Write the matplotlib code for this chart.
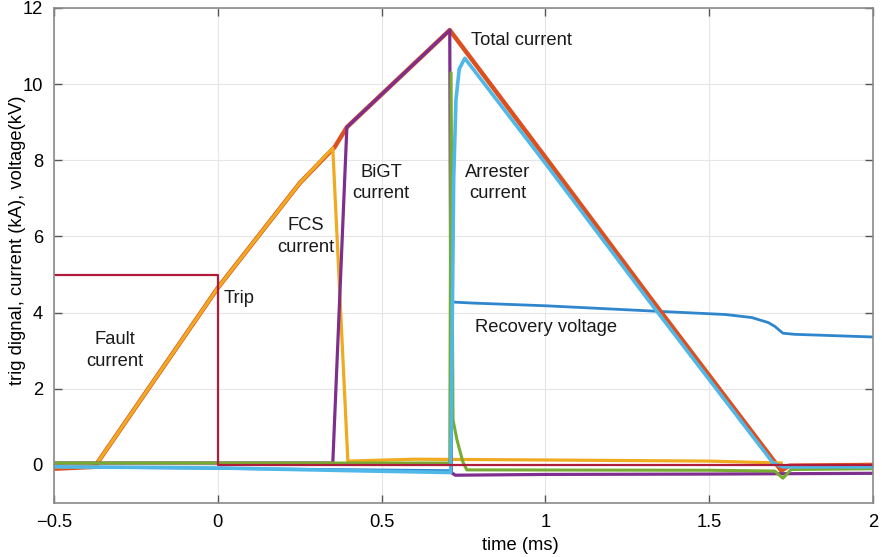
import matplotlib
matplotlib.use("Agg")
import matplotlib.pyplot as plt

plt.rcParams['font.family'] = ['Liberation Sans', 'DejaVu Sans']

# --- traces (time in ms) ---
trip_t = [-0.5, 0.0, 0.0, 2.0]
trip_v = [5.0, 5.0, 0.0, 0.0]

total_t = [-0.5, -0.376, 0.0, 0.25, 0.357, 0.394, 0.708, 1.0, 1.328, 1.707, 1.72, 1.745, 2.0]
total_v = [-0.1, -0.05, 4.65, 7.4, 8.35, 8.87, 11.42, 8.08, 4.3, 0.0, -0.15, -0.02, 0.0]

fcs_t = [-0.5, -0.376, 0.0, 0.25, 0.351, 0.397, 0.6, 1.0, 1.5, 1.72]
fcs_v = [-0.05, -0.05, 4.65, 7.4, 8.32, 0.1, 0.15, 0.13, 0.1, 0.05]

bigt_t = [-0.5, 0.351, 0.394, 0.708, 0.713, 0.725, 1.0, 1.5, 2.0]
bigt_v = [0.05, 0.05, 8.87, 11.42, -0.2, -0.27, -0.25, -0.24, -0.22]

green_t = [-0.5, 0.708, 0.712, 0.718, 0.730, 0.748, 0.76, 1.5, 1.70, 1.725, 1.75, 2.0]
green_v = [0.05, 0.05, 10.3, 1.18, 0.66, 0.08, -0.13, -0.14, -0.16, -0.35, -0.12, -0.1]

arrester_t = [-0.5, 0.0, 0.4, 0.711, 0.716, 0.72, 0.727, 0.737, 0.754, 1.0, 1.33, 1.695, 1.725, 2.0]
arrester_v = [-0.05, -0.08, -0.15, -0.2, 4.0, 7.5, 9.6, 10.4, 10.68, 7.92, 4.15, 0.05, -0.05, -0.05]

recovery_t = [-0.5, 0.71, 0.712, 0.78, 1.0, 1.33, 1.55, 1.63, 1.68, 1.70, 1.725, 1.76, 2.0]
recovery_v = [-0.05, -0.15, 4.28, 4.25, 4.18, 4.04, 3.95, 3.87, 3.74, 3.64, 3.46, 3.43, 3.36]

# label text and where it sits (data coords)
labels = [
    ("Total current", 0.773, 11.15, 'left'),
    ("BiGT\ncurrent", 0.498, 7.4, 'center'),
    ("FCS\ncurrent", 0.269, 6.0, 'center'),
    ("Arrester\ncurrent", 0.855, 7.4, 'center'),
    ("Trip", 0.018, 4.38, 'left'),
    ("Fault\ncurrent", -0.315, 3.0, 'center'),
    ("Recovery voltage", 0.785, 3.6, 'left'),
]

fs = 13.2

fig = plt.figure(figsize=(8.82, 5.57), dpi=100)
ax = fig.add_axes([54 / 882, 54 / 557, 819 / 882, 495 / 557])

# MATLAB default colour order, plotted in the same order
ax.plot(recovery_t, recovery_v, color='#2f86cc', lw=2.0)
ax.plot(total_t, total_v, color='#dc5020', lw=3.2)
ax.plot(fcs_t, fcs_v, color='#f0aa20', lw=2.3)
ax.plot(bigt_t, bigt_v, color='#7e2f8e', lw=2.3)
ax.plot(green_t, green_v, color='#77ac30', lw=2.2)
ax.plot(arrester_t, arrester_v, color='#50b8e8', lw=2.6)
ax.plot(trip_t, trip_v, color='#b01c3c', lw=1.6)

for txt, x, y, ha in labels:
    ax.text(x, y, txt, ha=ha, va='center', fontsize=fs, color='#1a1a1a',
            linespacing=1.35)

ax.set_xlim(-0.5, 2)
ax.set_ylim(-1, 12)
ax.set_xticks([-0.5, 0, 0.5, 1, 1.5, 2])
ax.set_xticklabels(['\u22120.5', '0', '0.5', '1', '1.5', '2'])
ax.set_yticks([0, 2, 4, 6, 8, 10, 12])
ax.grid(True, color='#e6e6e6', lw=0.8)
ax.set_axisbelow(True)

for s in ax.spines.values():
    s.set_color('#8a8a8a')
    s.set_linewidth(1.2)
ax.tick_params(direction='in', length=6, width=1, color='#555555',
               top=True, right=True, labelsize=fs, pad=8)

ax.set_xlabel("time (ms)", fontsize=fs)
ax.set_ylabel("trig dignal, current (kA), voltage(kV)", fontsize=fs)
ax.xaxis.set_label_coords(0.569, -0.069)
ax.yaxis.set_label_coords(-0.034, 0.531)

fig.savefig("out.png", dpi=100)
